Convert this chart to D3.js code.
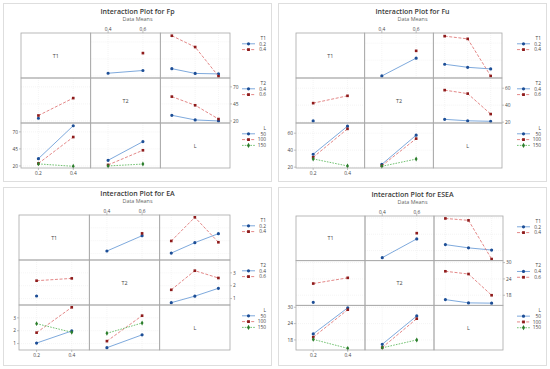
<!DOCTYPE html>
<html lang="en">
<head>
<meta charset="utf-8">
<title>Interaction Plots</title>
<script src="https://d3js.org/d3.v7.min.js"></script>
<style>
  body { margin: 0; background: #fff; }
  svg { display: block; font-family: "Open Sans", "Noto Sans", sans-serif; }
</style>
</head>
<body>
<script>
// factors and their levels
const factorNames = ["T1", "T2", "L"];
const levelsT1 = [0.2, 0.4];
const levelsT2 = [0.4, 0.6];
const levelsL = [50, 100, 150];
const levelLabels = [["0.2", "0.4"], ["0.4", "0.6"], ["50", "100", "150"]];

// data means, indexed [level of first factor][level of second factor]
const fpT1T2 = [[24, 28], [null, 53.5]];
const fpT1L = [[30.7, 23.7, 23], [79, 62.4, 19.5]];
const fpT2L = [[28.3, 21.5, 20], [55.7, 43, 22.8]];
const fpTicks = [20, 45, 70];

const fuT1T2 = [[21.4, 42.4], [null, 51]];
const fuT1L = [[35.2, 31.6, 29.7], [68.3, 65.1, 21.4]];
const fuT2L = [[23.3, 21.6, 21], [57.7, 53.6, 29.5]];
const fuTicks = [20, 40, 60];

const eaT1T2 = [[1.2, 2.39], [null, 2.57]];
const eaT1L = [[1.04, 1.85, 2.55], [1.98, 3.82, 1.88]];
const eaT2L = [[0.68, 1.19, 1.8], [1.68, 3.17, 2.6]];
const eaTicks = [1, 2, 3];

const eseaT1T2 = [[15.4, 22.3], [null, 24.4]];
const eseaT1L = [[20.2, 19, 18.2], [29.8, 29.1, 14.9]];
const eseaT2L = [[16.4, 15.2, 15.1], [26.8, 25.8, 18]];
const eseaTicks = [18, 24, 30];

const levels = [levelsT1, levelsT2, levelsL];

// layout of the four charts
const panels = [
  { title: "Interaction Plot for Fp", ox: 0, oy: 0, titleY: 14, grid: [21, 33, 230, 168],
    yDomain: [17, 83], ticks: fpTicks, pairs: { "0-1": fpT1T2, "0-2": fpT1L, "1-2": fpT2L } },
  { title: "Interaction Plot for Fu", ox: 275, oy: 0, titleY: 14, grid: [21, 33, 227, 168],
    yDomain: [19, 72], ticks: fuTicks, pairs: { "0-1": fuT1T2, "0-2": fuT1L, "1-2": fuT2L } },
  { title: "Interaction Plot for EA", ox: 0, oy: 184, titleY: 12, grid: [19, 31, 230, 166],
    yDomain: [0.5, 4.0], ticks: eaTicks, pairs: { "0-1": eaT1T2, "0-2": eaT1L, "1-2": eaT2L } },
  { title: "Interaction Plot for ESEA", ox: 275, oy: 184, titleY: 13, grid: [21, 32, 228, 166],
    yDomain: [14.3, 30.7], ticks: eseaTicks, pairs: { "0-1": eseaT1T2, "0-2": eseaT1L, "1-2": eseaT2L } }
];

const lineColors = ["#6f9fd8", "#e07b7b", "#63bb63"];
const markColors = ["#1d4e96", "#8e1b1b", "#2b7d2b"];
const dashes = [null, "3,1.6", "1.6,1.2"];
const symbols = [d3.symbolCircle, d3.symbolSquare, d3.symbolDiamond];

const W = 550, H = 369;
const svg = d3.select("body").append("svg")
  .attr("width", W)
  .attr("height", H);

svg.append("rect").attr("width", W).attr("height", H).attr("fill", "#fff");

function pairMatrix(p, i, j) {
  let m = p.pairs[Math.min(i, j) + "-" + Math.max(i, j)];
  if (i < j) return m;
  // transpose so rows are levels of factor i
  return levels[i].map((_, a) => levels[j].map((_, b) => m[b][a]));
}

panels.forEach(function(p) {
  const g = svg.append("g").attr("transform", `translate(${p.ox},${p.oy})`);

  // outer frame
  g.append("rect")
    .attr("x", 3.5).attr("y", 3.5)
    .attr("width", 268).attr("height", 178)
    .attr("fill", "#fff")
    .attr("stroke", "#dedede")
    .attr("stroke-width", 1);

  g.append("text")
    .attr("x", 137.5).attr("y", p.titleY)
    .attr("text-anchor", "middle")
    .attr("font-size", "7px")
    .attr("font-weight", 600)
    .attr("fill", "#3a3a3a")
    .text(p.title);

  g.append("text")
    .attr("x", 137.5).attr("y", p.titleY + 7)
    .attr("text-anchor", "middle")
    .attr("font-size", "5.4px")
    .attr("fill", "#666")
    .text("Data Means");

  const [gl, gt, gr, gb] = p.grid;
  const cw = (gr - gl) / 3, ch = (gb - gt) / 3;

  for (let i = 0; i < 3; i++) {        // row factor (traces)
    for (let j = 0; j < 3; j++) {      // column factor (x axis)
      const x0 = gl + j * cw, y0 = gt + i * ch;
      const cell = g.append("g");

      if (i === j) {
        cell.append("text")
          .attr("x", x0 + cw / 2).attr("y", y0 + ch / 2 + 2)
          .attr("text-anchor", "middle")
          .attr("font-size", "5.4px")
          .attr("fill", "#444")
          .text(factorNames[i]);
        continue;
      }

      const padFrac = levels[j].length === 2 ? 0.25 : 0.165;
      const xScale = d3.scaleLinear()
        .domain(d3.extent(levels[j]))
        .range([x0 + cw * padFrac, x0 + cw * (1 - padFrac)]);
      const yScale = d3.scaleLinear()
        .domain(p.yDomain)
        .range([y0 + ch, y0]);

      // faint gridlines
      cell.selectAll("line.gy")
        .data(p.ticks)
        .enter().append("line")
        .attr("x1", x0).attr("x2", x0 + cw)
        .attr("y1", d => yScale(d)).attr("y2", d => yScale(d))
        .attr("stroke", "#eeeeee").attr("stroke-width", 0.6)
        .attr("stroke-dasharray", "1,1");
      cell.selectAll("line.gx")
        .data(levels[j])
        .enter().append("line")
        .attr("x1", d => xScale(d)).attr("x2", d => xScale(d))
        .attr("y1", y0).attr("y2", y0 + ch)
        .attr("stroke", "#eeeeee").attr("stroke-width", 0.6)
        .attr("stroke-dasharray", "1,1");

      const m = pairMatrix(p, i, j);
      const line = d3.line()
        .defined(d => d.v !== null)
        .x(d => xScale(d.x))
        .y(d => yScale(d.v));

      m.forEach(function(row, k) {
        const pts = row.map((v, b) => ({ x: levels[j][b], v: v }));
        cell.append("path")
          .datum(pts)
          .attr("d", line)
          .attr("fill", "none")
          .attr("stroke", lineColors[k])
          .attr("stroke-width", 0.9)
          .attr("stroke-dasharray", dashes[k]);
        cell.selectAll(null)
          .data(pts.filter(d => d.v !== null))
          .enter().append("path")
          .attr("d", d3.symbol().type(symbols[k]).size(k === 0 ? 8 : 7))
          .attr("transform", d => `translate(${xScale(d.x)},${yScale(d.v)})`)
          .attr("fill", markColors[k]);
      });

      // y axis labels: rows 1 and 3 on the left, row 2 on the right
      if (j === (i === 1 ? 2 : 0)) {
        const onLeft = i !== 1;
        const ax = onLeft ? x0 : x0 + cw;
        cell.selectAll(null)
          .data(p.ticks)
          .enter().append("line")
          .attr("x1", ax).attr("x2", onLeft ? ax - 2 : ax + 2)
          .attr("y1", d => yScale(d)).attr("y2", d => yScale(d))
          .attr("stroke", "#999").attr("stroke-width", 0.6);
        cell.selectAll(null)
          .data(p.ticks)
          .enter().append("text")
          .attr("x", onLeft ? ax - 3 : ax + 3)
          .attr("y", d => yScale(d) + 1.7)
          .attr("text-anchor", onLeft ? "end" : "start")
          .attr("font-size", "4.8px")
          .attr("fill", "#444")
          .text(d => d);
      }

      // x axis labels: columns 1 and 3 at the bottom, column 2 at the top
      const bottomRow = (j === 1) ? 0 : 2;
      if (i === bottomRow) {
        const atTop = j === 1;
        const ay = atTop ? y0 : y0 + ch;
        cell.selectAll(null)
          .data(levels[j])
          .enter().append("line")
          .attr("x1", d => xScale(d)).attr("x2", d => xScale(d))
          .attr("y1", ay).attr("y2", atTop ? ay - 2 : ay + 2)
          .attr("stroke", "#999").attr("stroke-width", 0.6);
        cell.selectAll(null)
          .data(levels[j])
          .enter().append("text")
          .attr("x", d => xScale(d))
          .attr("y", atTop ? ay - 2.5 : ay + 6.5)
          .attr("text-anchor", "middle")
          .attr("font-size", "4.8px")
          .attr("fill", "#444")
          .text((d, b) => levelLabels[j][b]);
      }
    }
  }

  // cell borders
  for (let i = 0; i < 3; i++) {
    for (let j = 0; j < 3; j++) {
      g.append("rect")
        .attr("x", gl + j * cw).attr("y", gt + i * ch)
        .attr("width", cw).attr("height", ch)
        .attr("fill", "none")
        .attr("stroke", "#a8a8a8")
        .attr("stroke-width", 0.8);
    }
  }

  // legends, one per row
  for (let i = 0; i < 3; i++) {
    const ly = gt + i * ch + 5;
    const lg = g.append("g");
    lg.append("text")
      .attr("x", 266).attr("y", ly + 1.7)
      .attr("text-anchor", "end")
      .attr("font-size", "4.8px")
      .attr("fill", "#444")
      .text(factorNames[i]);
    levels[i].forEach(function(lv, k) {
      const ey = ly + 5.8 * (k + 1);
      lg.append("line")
        .attr("x1", 242).attr("x2", 255)
        .attr("y1", ey).attr("y2", ey)
        .attr("stroke", lineColors[k])
        .attr("stroke-width", 0.9)
        .attr("stroke-dasharray", dashes[k]);
      lg.append("path")
        .attr("d", d3.symbol().type(symbols[k]).size(8))
        .attr("transform", `translate(248.5,${ey})`)
        .attr("fill", markColors[k]);
      lg.append("text")
        .attr("x", 266).attr("y", ey + 1.7)
        .attr("text-anchor", "end")
        .attr("font-size", "4.8px")
        .attr("fill", "#444")
        .text(levelLabels[i][k]);
    });
  }
});
</script>
</body>
</html>
